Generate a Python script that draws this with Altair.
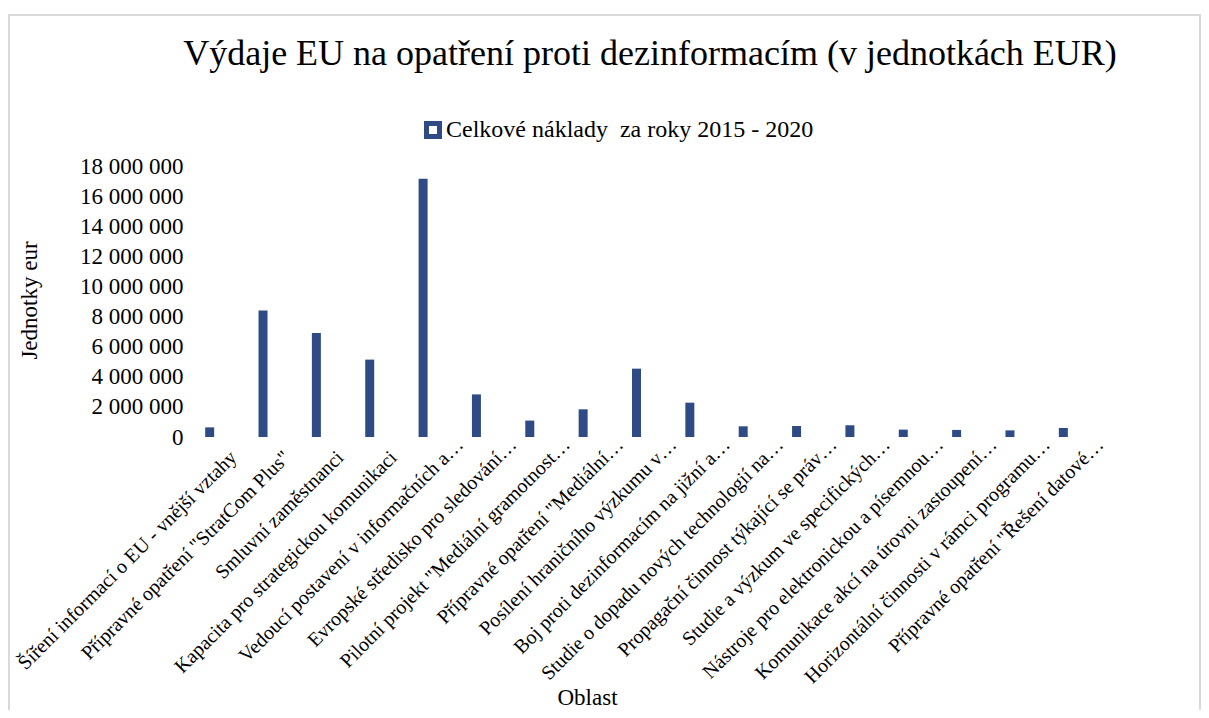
import altair as alt
import pandas as pd

categories = [
    "Šíření informací o EU - vnější vztahy",
    "Přípravné opatření \"StratCom Plus\"",
    "Smluvní zaměstnanci",
    "Kapacita pro strategickou komunikaci",
    "Vedoucí postavení v informačních a…",
    "Evropské středisko pro sledování…",
    "Pilotní projekt \"Mediální gramotnost…",
    "Přípravné opatření \"Mediální…",
    "Posílení hraničního výzkumu v…",
    "Boj proti dezinformacím na jižní a…",
    "Studie o dopadu nových technologií na…",
    "Propagační činnost týkající se práv…",
    "Studie a výzkum ve specifických…",
    "Nástroje pro elektronickou a písemnou…",
    "Komunikace akcí na úrovni zastoupení…",
    "Horizontální činnosti v rámci programu…",
    "Přípravné opatření \"Řešení datové…",
]
values = [640000, 8410000, 6900000, 5140000, 17160000, 2830000, 1090000,
          1840000, 4540000, 2280000, 710000, 730000, 780000, 490000,
          470000, 440000, 600000]
series_name = "Celkové náklady\u00a0 za roky 2015 - 2020"
title_text = "Výdaje EU na opatření proti dezinformacím (v jednotkách EUR)"
y_ticks = [0, 2000000, 4000000, 6000000, 8000000, 10000000, 12000000,
           14000000, 16000000, 18000000]

df = pd.DataFrame({"Oblast": categories, "Hodnota": values})

FONT = "Liberation Serif"
BAR = "#2E4B86"
TRUNC_TEST = "indexof(datum.label, '…') < 0"

bars = alt.Chart(df).mark_bar(size=9, color=BAR).encode(
    x=alt.X("Oblast:N", sort=None,
            scale=alt.Scale(paddingInner=0, paddingOuter=0),
            axis=alt.Axis(title="Oblast", labelAngle=-45, labelAlign="right",
                          labelBaseline="middle", labelFontSize=20, labelFont=FONT,
                          labelColor="black",
                          labelPadding={"condition": {"test": TRUNC_TEST, "value": 17}, "value": 4},
                          labelOffset={"condition": {"test": TRUNC_TEST, "value": 24}, "value": 37},
                          labelLimit=0, domain=False, ticks=False, grid=False,
                          titleFont=FONT, titleFontSize=23, titleFontWeight="normal",
                          titleColor="black", titleX=404, titleY=267,
                          titleBaseline="alphabetic", titleAlign="center")),
    y=alt.Y("Hodnota:Q", scale=alt.Scale(domain=[0, 18000000], nice=False),
            axis=alt.Axis(title="Jednotky eur", values=y_ticks,
                          labelExpr="replace(format(datum.value, ','), regexp(',', 'g'), ' ')",
                          labelFont=FONT, labelFontSize=23, labelColor="black",
                          labelPadding=0, domain=False, ticks=False, grid=False,
                          titleFont=FONT, titleFontSize=23, titleFontWeight="normal",
                          titleColor="black", titleX=-154, titleY=134,
                          titleAngle=-90, titleBaseline="middle", titleAlign="center")),
)

legend_layer = alt.Chart(pd.DataFrame({"Serie": [series_name]})).mark_point(
    shape="square", filled=False, opacity=0, strokeWidth=5
).encode(
    x=alt.value(0), y=alt.value(0),
    stroke=alt.Stroke("Serie:N", scale=alt.Scale(range=[BAR]),
                      legend=alt.Legend(title=None, orient="none", legendX=238, legendY=-48,
                                        symbolType="square", symbolSize=169,
                                        symbolStrokeWidth=5, symbolFillColor="white",
                                        symbolOpacity=1,
                                        labelFont=FONT, labelFontSize=24, labelColor="black",
                                        labelOffset=1, padding=0, labelLimit=0)),
)

title = alt.Chart(pd.DataFrame({"t": [title_text]})).mark_text(
    font=FONT, fontSize=36, align="center", baseline="alphabetic", color="black"
).encode(text="t:N", x=alt.value(467), y=alt.value(-101))

border = alt.Chart(pd.DataFrame({"a": [0]})).mark_rect(
    fill="transparent", stroke="#d9d9d9", strokeWidth=2
).encode(x=alt.value(-174), x2=alt.value(1017), y=alt.value(-151), y2=alt.value(640))

chart = alt.layer(border, bars, legend_layer, title).properties(
    width=907, height=271,
    autosize=alt.AutoSizeParams(type="none"),
    padding={"left": 175, "top": 158, "right": 111, "bottom": 273},
    background="white",
).configure_view(strokeWidth=0)

chart.save("out.html", embed_options={"renderer": "svg", "actions": False})
